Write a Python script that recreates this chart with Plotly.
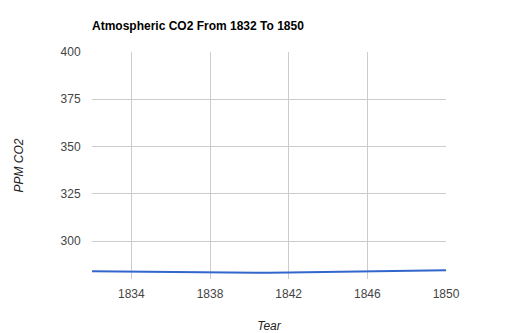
import plotly.graph_objects as go

years = list(range(1832, 1851))
co2 = [284.1, 284.0, 283.9, 283.7, 283.5, 283.4, 283.3, 283.2, 283.2, 283.3,
       283.4, 283.5, 283.6, 283.8, 283.9, 284.1, 284.3, 284.5, 284.6]
y_ticks = [300, 325, 350, 375, 400]
x_ticks = [1834, 1838, 1842, 1846, 1850]

fig = go.Figure(go.Scatter(x=years, y=co2, mode="lines",
                           line=dict(color="#3366cc", width=2)))

font = "Liberation Sans, Arial, sans-serif"
fig.update_layout(
    width=526, height=333,
    margin=dict(l=92, r=80, t=52, b=54),
    paper_bgcolor="white", plot_bgcolor="white",
    showlegend=False,
    font=dict(family=font, size=12, color="#444"),
    title=dict(text="<b>Atmospheric CO2 From 1832 To 1850</b>",
               font=dict(family=font, size=12, color="#000"),
               x=92/526, xanchor="left", y=1-26/333, yanchor="middle"),
    xaxis=dict(range=[1832, 1850], tickvals=x_ticks, showgrid=True, automargin=False,
               gridcolor="#cccccc", gridwidth=1, zeroline=False, showline=False,
               ticks="outside", ticklen=4, tickcolor="rgba(0,0,0,0)",
               tickfont=dict(size=12, color="#444"),
               title=dict(text="<i>Tear</i>", font=dict(size=12, color="#222"), standoff=23)),
    yaxis=dict(range=[280, 400], tickvals=y_ticks, showgrid=True, automargin=False,
               gridcolor="#cccccc", gridwidth=1, zeroline=False, showline=False,
               ticks="outside", ticklen=8, tickcolor="rgba(0,0,0,0)",
               tickfont=dict(size=12, color="#444"),
               title=dict(text="<i>PPM CO2</i>", font=dict(size=12, color="#222"), standoff=34)),
)
fig.write_html("out.html")
